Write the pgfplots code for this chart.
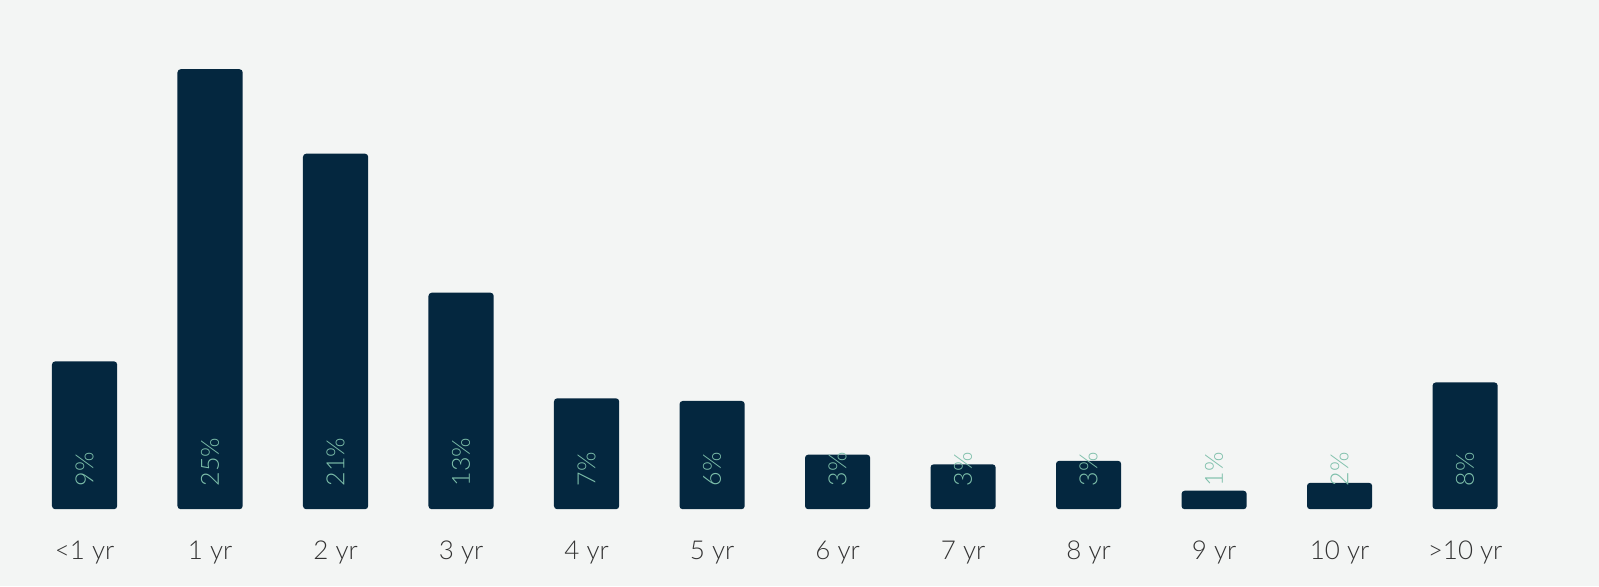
\documentclass[border=0pt]{standalone}
\usepackage{pgfplots}
\pgfplotsset{compat=1.18}
\usepackage{fontspec}
\setmainfont{Lato Light}
\definecolor{bgc}{HTML}{F3F5F4}
\definecolor{barc}{HTML}{04273F}
\definecolor{labc}{HTML}{7DBFAA}
\definecolor{tickc}{HTML}{333333}
\begin{document}
\begin{tikzpicture}
\fill[bgc] (0pt,-38.5pt) rectangle (799.5pt,254.5pt);
\begin{axis}[
  at={(0pt,0pt)}, anchor=south west,
  scale only axis, width=799.5pt, height=254.5pt,
  xmin=-0.674, xmax=12.067, ymin=0, ymax=28.92,
  axis line style={draw=none},
  ytick=\empty,
  xtick={0,1,2,3,4,5,6,7,8,9,10,11},
  xticklabels={{<1 yr},{1 yr},{2 yr},{3 yr},{4 yr},{5 yr},{6 yr},{7 yr},{8 yr},{9 yr},{10 yr},{>10 yr}},
  major tick length=0pt,
  xticklabel style={anchor=base, yshift=-25pt, text=tickc, font=\fontsize{13pt}{15pt}\selectfont},
  clip=false,
]
\addplot[ybar, bar width=32.6pt, fill=barc, draw=none, rounded corners=1.6pt] coordinates {
  (0,8.4) (1,25) (2,20.2) (3,12.3) (4,6.3) (5,6.15) (6,3.1) (7,2.55) (8,2.75) (9,1.05) (10,1.5) (11,7.2)
};
\addplot[draw=none, mark=none, point meta=explicit symbolic,
  nodes near coords={\pgfplotspointmeta\%},
  every node near coord/.style={rotate=90, anchor=west, inner sep=0pt, yshift=0pt, xshift=11.2pt, text=labc, font=\fontsize{12.5pt}{14pt}\selectfont}]
  table[meta=lab] {
x y lab
0 0 9
1 0 25
2 0 21
3 0 13
4 0 7
5 0 6
6 0 3
7 0 3
8 0 3
9 0 1
10 0 2
11 0 8
};
\end{axis}
\end{tikzpicture}
\end{document}
